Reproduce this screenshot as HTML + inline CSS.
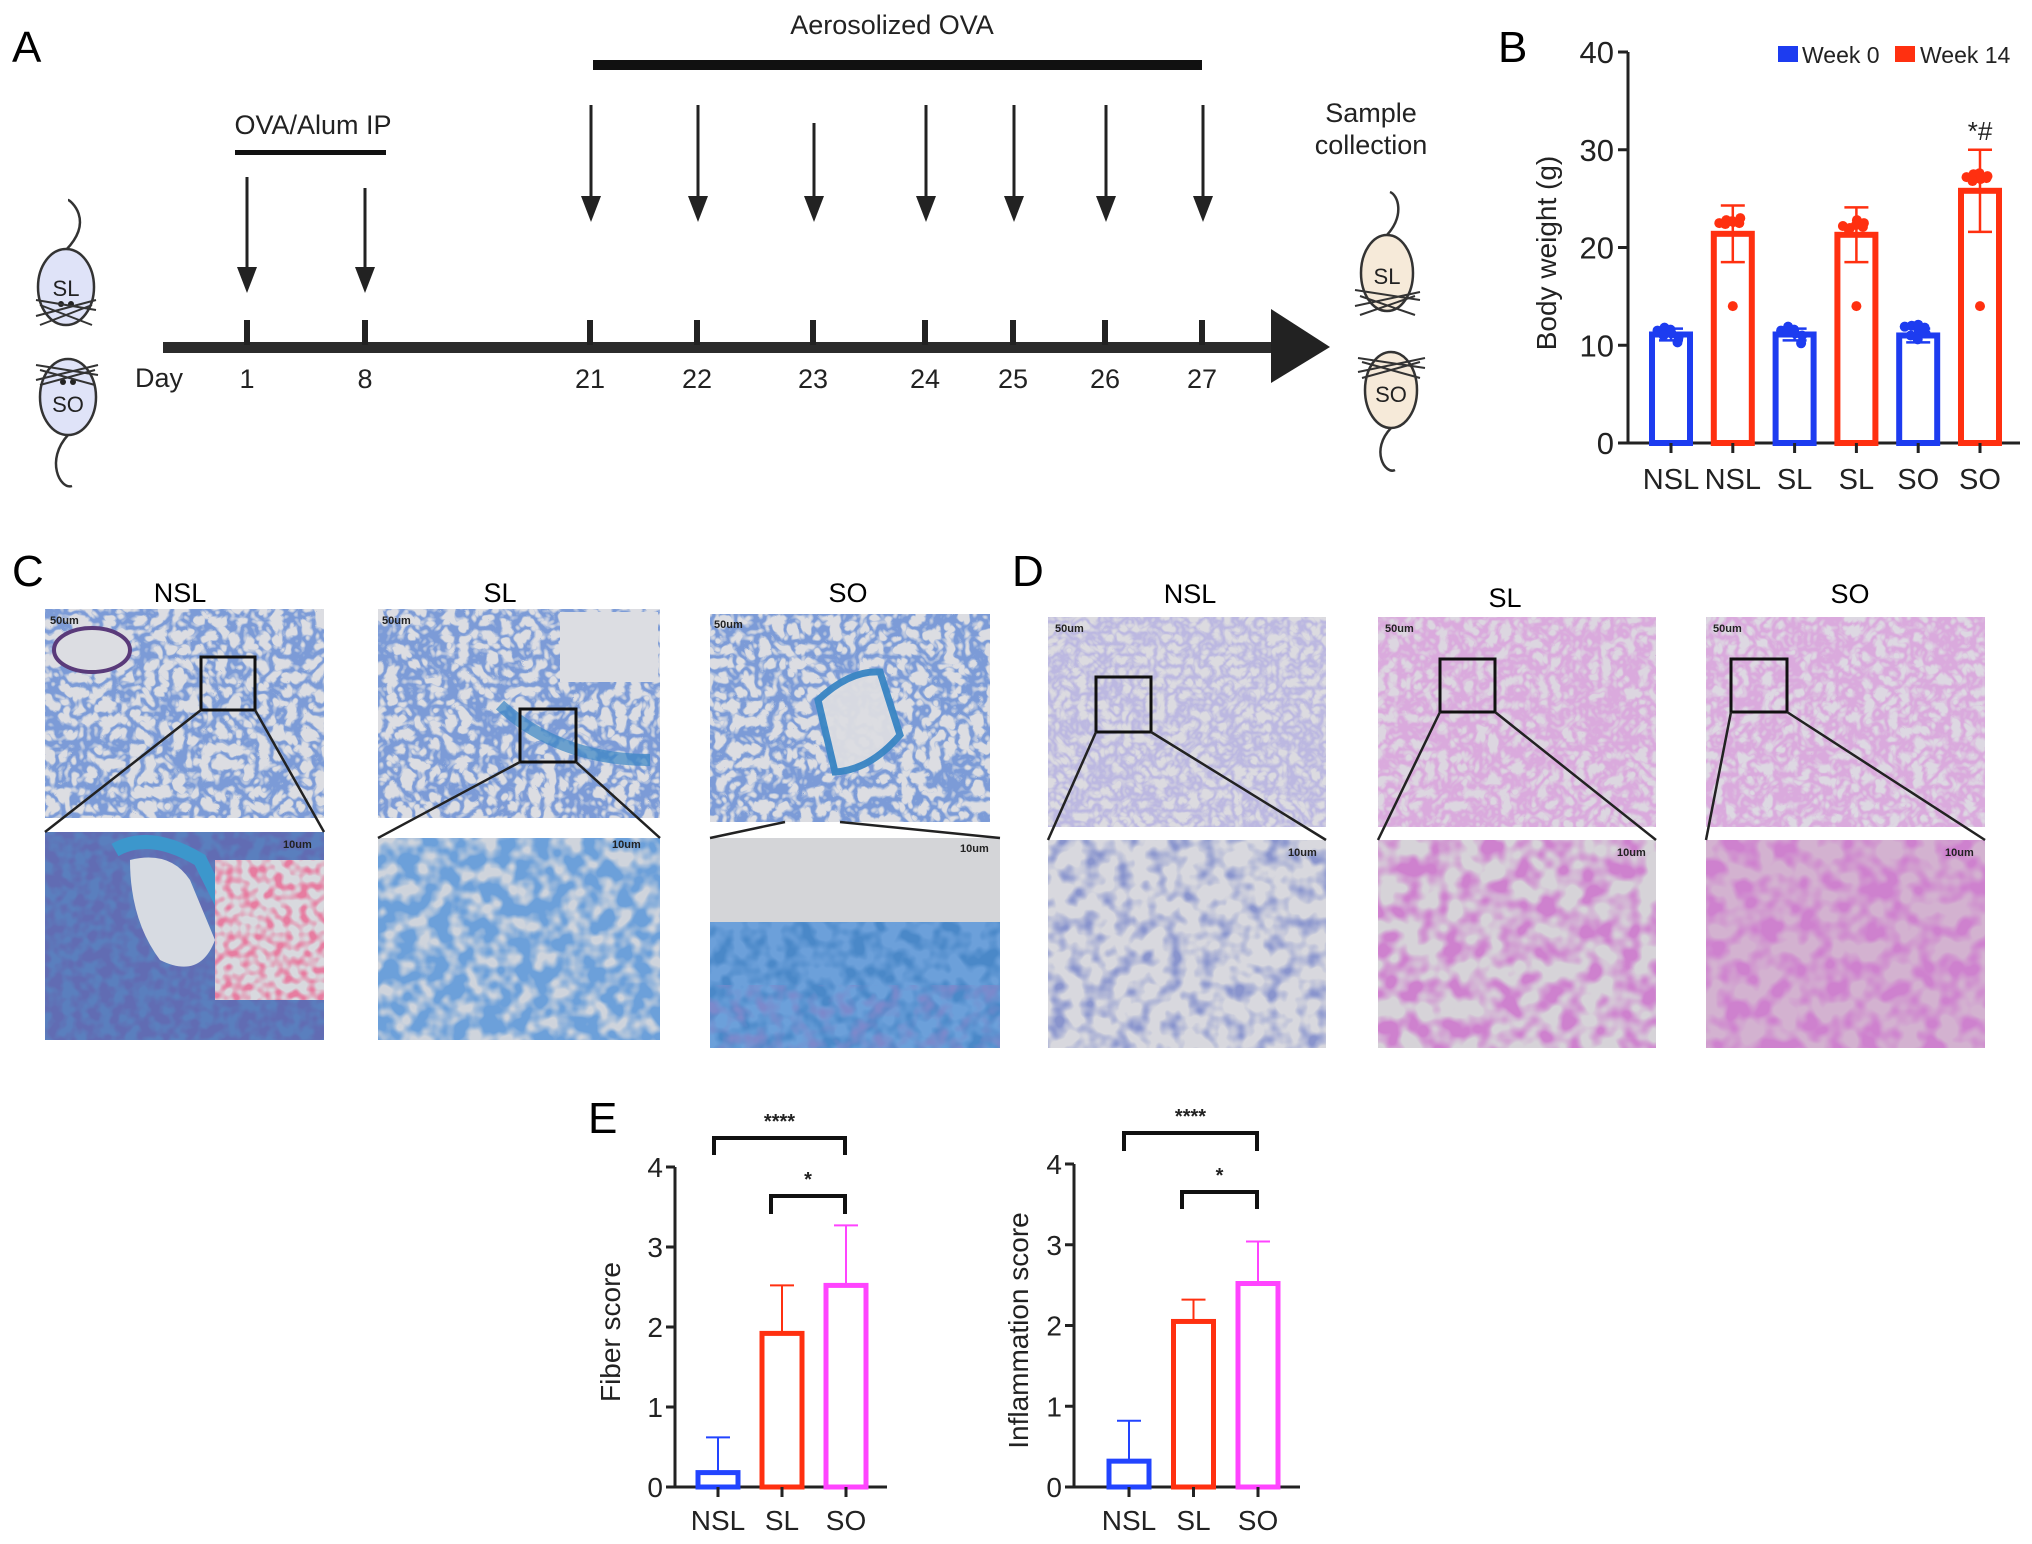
<!DOCTYPE html>
<html><head><meta charset="utf-8">
<style>
html,body{margin:0;padding:0;background:#fff;}
svg{display:block;font-family:"Liberation Sans",Arial,sans-serif;}
</style></head>
<body>
<svg id="fig" width="2032" height="1544" viewBox="0 0 2032 1544" xmlns="http://www.w3.org/2000/svg">
<defs>
  <filter id="texBlue" x="0" y="0" width="100%" height="100%">
    <feTurbulence type="turbulence" baseFrequency="0.07" numOctaves="2" seed="3"/>
    <feColorMatrix type="matrix" values="0 0 0 0 0.2  0 0 0 0 0.33  0 0 0 0 0.68  -5 0 0 0 1.7"/>
  </filter>
  <filter id="texBlueDark" x="0" y="0" width="100%" height="100%">
    <feTurbulence type="fractalNoise" baseFrequency="0.06" numOctaves="2" seed="7"/>
    <feColorMatrix type="matrix" values="0 0 0 0 0.15  0 0 0 0 0.35  0 0 0 0 0.7  3.5 0 0 0 -1.1"/>
  </filter>
  <filter id="texNavy" x="0" y="0" width="100%" height="100%">
    <feTurbulence type="fractalNoise" baseFrequency="0.08" numOctaves="2" seed="17"/>
    <feColorMatrix type="matrix" values="0 0 0 0 0.12  0 0 0 0 0.15  0 0 0 0 0.45  3.5 0 0 0 -1.2"/>
  </filter>
  <filter id="texRed" x="0" y="0" width="100%" height="100%">
    <feTurbulence type="fractalNoise" baseFrequency="0.12" numOctaves="1" seed="21"/>
    <feColorMatrix type="matrix" values="0 0 0 0 0.8  0 0 0 0 0.2  0 0 0 0 0.35  4 0 0 0 -1.7"/>
  </filter>
  <filter id="texPurple" x="0" y="0" width="100%" height="100%">
    <feTurbulence type="turbulence" baseFrequency="0.09" numOctaves="2" seed="5"/>
    <feColorMatrix type="matrix" values="0 0 0 0 0.5  0 0 0 0 0.48  0 0 0 0 0.75  -3 0 0 0 1.3"/>
  </filter>
  <filter id="texPink" x="0" y="0" width="100%" height="100%">
    <feTurbulence type="turbulence" baseFrequency="0.08" numOctaves="2" seed="9"/>
    <feColorMatrix type="matrix" values="0 0 0 0 0.7  0 0 0 0 0.4  0 0 0 0 0.72  -3.2 0 0 0 1.4"/>
  </filter>
  <filter id="texPinkBig" x="0" y="0" width="100%" height="100%">
    <feTurbulence type="fractalNoise" baseFrequency="0.05" numOctaves="2" seed="11"/>
    <feColorMatrix type="matrix" values="0 0 0 0 0.62  0 0 0 0 0.22  0 0 0 0 0.62  3.5 0 0 0 -1.35"/>
  </filter>
  <filter id="texBluePurple" x="0" y="0" width="100%" height="100%">
    <feTurbulence type="fractalNoise" baseFrequency="0.06" numOctaves="2" seed="13"/>
    <feColorMatrix type="matrix" values="0 0 0 0 0.2  0 0 0 0 0.25  0 0 0 0 0.6  3.0 0 0 0 -1.3"/>
  </filter>
</defs>

<g>
  <text x="12" y="62" font-size="44">A</text>
  <text x="892" y="34" font-size="27" text-anchor="middle" fill="#222">Aerosolized OVA</text>
  <rect x="593" y="60" width="609" height="10" fill="#111"/>
  <text x="313" y="134" font-size="27" text-anchor="middle" fill="#222">OVA/Alum IP</text>
  <rect x="235" y="150" width="151" height="5" fill="#111"/>
  <text x="1371" y="122" font-size="27" text-anchor="middle" fill="#222">Sample</text>
  <text x="1371" y="154" font-size="27" text-anchor="middle" fill="#222">collection</text>
  <g id="arrows" stroke="#222" stroke-width="3" fill="#222"></g>
  <rect x="163" y="342" width="1110" height="11" fill="#2b2b2b"/>
  <polygon points="1271,309 1330,347 1271,383" fill="#222"/>
  <g id="ticks"></g>
  <text x="135" y="387" font-size="27" fill="#222">Day</text>
  <g>
    <path d="M66,250 C95,220 70,200 68,200" fill="none" stroke="#333" stroke-width="2.5"/>
    <ellipse cx="66" cy="287" rx="28" ry="38" fill="#dfe3f8" stroke="#333" stroke-width="2.5"/>
    <text x="66" y="296" font-size="22" text-anchor="middle" fill="#222">SL</text>
    <circle cx="61" cy="304" r="3" fill="#222"/><circle cx="71" cy="304" r="3" fill="#222"/>
    <path d="M36,300 L96,310 M36,316 L96,300 M40,325 L92,305 M92,325 L40,305" stroke="#333" stroke-width="2"/>
  </g>
  <g>
    <ellipse cx="68" cy="397" rx="28" ry="38" fill="#dfe3f8" stroke="#333" stroke-width="2.5"/>
    <text x="68" y="412" font-size="22" text-anchor="middle" fill="#222">SO</text>
    <circle cx="63" cy="382" r="3" fill="#222"/><circle cx="73" cy="382" r="3" fill="#222"/>
    <path d="M36,365 L98,375 M36,380 L98,365 M40,385 L95,370 M95,385 L40,370" stroke="#333" stroke-width="2"/>
    <path d="M68,435 C45,460 60,490 72,486" fill="none" stroke="#333" stroke-width="2.5"/>
  </g>
  <g>
    <path d="M1387,235 C1405,215 1398,195 1390,192" fill="none" stroke="#333" stroke-width="2.5"/>
    <ellipse cx="1387" cy="273" rx="26" ry="38" fill="#f6ead9" stroke="#333" stroke-width="2.5"/>
    <text x="1387" y="284" font-size="22" text-anchor="middle" fill="#222">SL</text>
    <path d="M1355,290 L1420,300 M1355,306 L1420,292 M1360,315 L1415,296 M1415,315 L1360,296" stroke="#333" stroke-width="2"/>
  </g>
  <g>
    <ellipse cx="1391" cy="390" rx="26" ry="38" fill="#f6ead9" stroke="#333" stroke-width="2.5"/>
    <text x="1391" y="402" font-size="22" text-anchor="middle" fill="#222">SO</text>
    <path d="M1358,358 L1425,368 M1358,372 L1425,358 M1362,378 L1420,362 M1420,378 L1362,362" stroke="#333" stroke-width="2"/>
    <path d="M1391,428 C1370,450 1385,475 1395,470" fill="none" stroke="#333" stroke-width="2.5"/>
  </g>
</g>

<g>
  <text x="12" y="586" font-size="44">C</text>
  <text x="180" y="602" font-size="27" text-anchor="middle">NSL</text>
  <text x="500" y="602" font-size="27" text-anchor="middle">SL</text>
  <text x="848" y="602" font-size="27" text-anchor="middle">SO</text>

  <rect x="45" y="609" width="279" height="209" fill="#dcdde2"/>
  <rect x="45" y="609" width="279" height="209" filter="url(#texBlue)"/>
  <ellipse cx="92" cy="650" rx="38" ry="22" fill="#dcdde2" stroke="#5a3a7a" stroke-width="4"/>
  <rect x="378" y="609" width="282" height="209" fill="#dcdde2"/>
  <rect x="378" y="609" width="282" height="209" filter="url(#texBlue)"/>
  <rect x="560" y="612" width="98" height="70" fill="#dcdde2"/>
  <path d="M500,705 Q560,760 650,760" fill="none" stroke="#3a86c4" stroke-width="12" opacity="0.7"/>
  <rect x="710" y="614" width="280" height="208" fill="#dcdde2"/>
  <rect x="710" y="614" width="280" height="208" filter="url(#texBlue)"/>
  <path d="M818,700 Q850,670 880,672 L900,735 Q870,770 835,772 Z" fill="#dcdde2" stroke="#3a86c4" stroke-width="7" opacity="0.95"/>

  <rect x="45" y="832" width="279" height="208" fill="#5a7fbe"/>
  <rect x="45" y="832" width="279" height="208" filter="url(#texNavy)"/>
  <path d="M130,860 Q170,850 190,880 L215,940 Q200,980 160,960 Q130,920 130,860 Z" fill="#d7dbe2"/>
  <path d="M115,850 Q150,830 200,860 L240,940" fill="none" stroke="#3c97cc" stroke-width="14"/>
  <rect x="215" y="860" width="109" height="140" fill="#d8d9de"/>
  <rect x="215" y="860" width="109" height="140" filter="url(#texRed)"/>
  <text x="283" y="848" font-size="11" font-weight="bold" fill="#222">10um</text>
  <rect x="378" y="838" width="282" height="202" fill="#cfd4dc"/>
  <rect x="378" y="838" width="282" height="202" filter="url(#texBlueDark)"/>
  <rect x="710" y="838" width="290" height="210" fill="#d4d5d8"/>
  <rect x="710" y="922" width="290" height="126" fill="#4a88c8"/>
  <rect x="710" y="922" width="290" height="126" filter="url(#texBlueDark)"/>
  <rect x="710" y="985" width="290" height="63" filter="url(#texBluePurple)"/>

  <rect x="201" y="657" width="54" height="53" fill="none" stroke="#111" stroke-width="3"/>
  <rect x="520" y="709" width="56" height="53" fill="none" stroke="#111" stroke-width="3"/>
  <g stroke="#222" stroke-width="2.5">
    <line x1="201" y1="710" x2="45" y2="832"/><line x1="255" y1="710" x2="324" y2="832"/>
    <line x1="520" y1="762" x2="378" y2="838"/><line x1="576" y1="762" x2="660" y2="838"/>
    <line x1="785" y1="822" x2="710" y2="838"/><line x1="840" y1="822" x2="1000" y2="838"/>
  </g>
  <g font-size="11" font-weight="bold" fill="#222">
    <text x="50" y="624">50um</text><text x="382" y="624">50um</text><text x="714" y="628">50um</text>
    <text x="612" y="848">10um</text><text x="960" y="852">10um</text>
  </g>
</g>

<g>
  <text x="1012" y="586" font-size="44">D</text>
  <text x="1190" y="603" font-size="27" text-anchor="middle">NSL</text>
  <text x="1505" y="607" font-size="27" text-anchor="middle">SL</text>
  <text x="1850" y="603" font-size="27" text-anchor="middle">SO</text>

  <rect x="1048" y="617" width="278" height="210" fill="#dcdbe0"/>
  <rect x="1048" y="617" width="278" height="210" filter="url(#texPurple)"/>
  <rect x="1378" y="617" width="278" height="210" fill="#dcd6e0"/>
  <rect x="1378" y="617" width="278" height="210" filter="url(#texPink)"/>
  <rect x="1706" y="617" width="279" height="210" fill="#ddd8e2"/>
  <rect x="1706" y="617" width="279" height="210" filter="url(#texPink)"/>

  <rect x="1048" y="840" width="278" height="208" fill="#d8d8de"/>
  <rect x="1048" y="840" width="278" height="208" filter="url(#texBluePurple)" opacity="0.85"/>
  <rect x="1378" y="840" width="278" height="208" fill="#d6d3d8"/>
  <rect x="1378" y="840" width="278" height="208" filter="url(#texPinkBig)"/>
  <rect x="1706" y="840" width="279" height="208" fill="#d3b2d0"/>
  <rect x="1706" y="840" width="279" height="208" filter="url(#texPinkBig)"/>

  <rect x="1096" y="677" width="55" height="55" fill="none" stroke="#111" stroke-width="3"/>
  <rect x="1440" y="659" width="55" height="53" fill="none" stroke="#111" stroke-width="3"/>
  <rect x="1731" y="659" width="56" height="53" fill="none" stroke="#111" stroke-width="3"/>
  <g stroke="#222" stroke-width="2.5">
    <line x1="1096" y1="732" x2="1048" y2="840"/><line x1="1151" y1="732" x2="1326" y2="840"/>
    <line x1="1440" y1="712" x2="1378" y2="840"/><line x1="1495" y1="712" x2="1656" y2="840"/>
    <line x1="1731" y1="712" x2="1706" y2="840"/><line x1="1787" y1="712" x2="1985" y2="840"/>
  </g>
  <g font-size="11" font-weight="bold" fill="#222">
    <text x="1055" y="632">50um</text><text x="1385" y="632">50um</text><text x="1713" y="632">50um</text>
    <text x="1288" y="856">10um</text><text x="1617" y="856">10um</text><text x="1945" y="856">10um</text>
  </g>
</g>

<g id="chartB"></g>
<g id="chartE1"></g>
<g id="chartE2"></g>
<text x="1498" y="62" font-size="44">B</text>
<text x="588" y="1133" font-size="44">E</text>
</svg>

<script>
const timelineDays = ["1","8","21","22","23","24","25","26","27"];
const ipDays = ["1","8"];
const aerosolDays = ["21","22","23","24","25","26","27"];

const bCategories = ["NSL","NSL","SL","SL","SO","SO"];
const bWeeks = [0,14,0,14,0,14];
const bMeans = [11.1, 21.4, 11.1, 21.3, 11.0, 25.8];
const bSD = [0.6, 2.9, 0.6, 2.8, 0.7, 4.2];
const bPoints = [
  [11.5,11.8,11.2,10.8,11.0,11.6,10.3,11.3],
  [22.5,22.8,22.6,23.0,22.4,22.7,22.5,14.0],
  [11.5,11.9,11.2,11.0,11.4,11.6,10.2,11.3],
  [22.2,22.0,22.8,22.5,21.8,22.3,22.1,14.0],
  [11.9,12.0,11.5,11.2,11.0,10.6,11.8,12.1],
  [27.2,27.5,27.0,27.3,26.8,27.6,27.1,14.0]
];
const bTicks = [0,10,20,30,40];
const bLegend = ["Week 0","Week 14"];

const eCategories = ["NSL","SL","SO"];
const fiberMeans = [0.18, 1.92, 2.52];
const fiberSD = [0.44, 0.60, 0.75];
const inflMeans = [0.32, 2.05, 2.52];
const inflSD = [0.50, 0.27, 0.52];
const eTicks = [0,1,2,3,4];

const NS = "http://www.w3.org/2000/svg";
function mk(tag, attrs, parent){ const e=document.createElementNS(NS,tag); for(const k in attrs) e.setAttribute(k,attrs[k]); if(parent) parent.appendChild(e); return e; }

const dayX = {"1":247,"8":365,"21":590,"22":697,"23":813,"24":925,"25":1013,"26":1105,"27":1202};
const tickG = document.getElementById('ticks');
timelineDays.forEach(d=>{
  const t = mk('rect',{x:dayX[d]-3,y:320,width:6,height:25,fill:'#222'},tickG);
  
  
  const l = mk('text',{x:dayX[d],y:388,'font-size':27,'text-anchor':'middle',fill:'#222'},tickG);
  l.textContent=d;
  
  
});
const arrG = document.getElementById('arrows');
function arrow(x,y1,y2,name){
  const g = mk('g',{},arrG);
  
  
  mk('line',{x1:x,y1:y1,x2:x,y2:y2-20},g);
  mk('polygon',{points:`${x-10},${y2-26} ${x+10},${y2-26} ${x},${y2}`,stroke:'none'},g);
}
ipDays.forEach((d,i)=>arrow(dayX[d], i==0?177:188, 293, 'ip-arrow-day-'+d));
aerosolDays.forEach(d=>arrow(dayX[d]+1, d=="23"?123:105, 222, 'aerosol-arrow-day-'+d));

(function(){
  const g=document.getElementById('chartB');
  const x0=1628, xEnd=2020, y0=443, yTop=52, vmax=40;
  const y=v=>y0-(v/vmax)*(y0-yTop);
  const step=61.8, first=1671, bw=38;
  const cx=i=>first+i*step;
  const colors={0:'#1d3cf0',14:'#ff3010'};
  bTicks.forEach(t=>{
    const tk=mk('line',{x1:x0-10,y1:y(t),x2:x0,y2:y(t),stroke:'#222','stroke-width':3},g);
    
    
    const lb=mk('text',{x:x0-14,y:y(t)+11,'font-size':31,'text-anchor':'end',fill:'#222'},g);
    lb.textContent=t;
    
    
  });
  const ax=mk('path',{d:`M${x0},${yTop} V${y0} H${xEnd}`,fill:'none',stroke:'#222','stroke-width':3},g);
  
  
  bCategories.forEach((c,i)=>{
    const col=colors[bWeeks[i]];
    const bar=mk('rect',{x:cx(i)-bw/2,y:y(bMeans[i]),width:bw,height:y0-y(bMeans[i]),fill:'#fff',stroke:col,'stroke-width':6},g);
    
    
    const hi=y(bMeans[i]+bSD[i]), lo=y(bMeans[i]-bSD[i]);
    const eb=mk('path',{d:`M${cx(i)},${hi} V${lo} M${cx(i)-12},${hi} H${cx(i)+12} M${cx(i)-12},${lo} H${cx(i)+12}`,stroke:col,'stroke-width':2.5,fill:'none'},g);
    
    
    bPoints[i].forEach((p,j)=>{
      const dx=(j%4-1.5)*7 + (j>=4?3:-3);
      const pt=mk('circle',{cx:(j==7?cx(i):cx(i)+dx),cy:y(p),r:5,fill:col},g);
      
      
    });
    const tk=mk('line',{x1:cx(i),y1:y0,x2:cx(i),y2:y0+10,stroke:'#222','stroke-width':3},g);
    
    
    const lb=mk('text',{x:cx(i),y:489,'font-size':29,'text-anchor':'middle',fill:'#222'},g);
    lb.textContent=c;
    
    
  });
  const sig=mk('text',{x:cx(5),y:140,'font-size':26,'text-anchor':'middle',fill:'#222'},g);
  sig.textContent='*#';
  
  
  const yt=mk('text',{x:1556,y:253,'font-size':28,'text-anchor':'middle',fill:'#222',transform:'rotate(-90 1556 253)'},g);
  yt.textContent='Body weight (g)';
  
  
  const lx=[1778,1895], tx=[1802,1920], lc=['#1d3cf0','#ff3010'];
  bLegend.forEach((l,i)=>{
    const s=mk('rect',{x:lx[i],y:46,width:20,height:16,fill:lc[i]},g);
    
    
    const t=mk('text',{x:tx[i],y:63,'font-size':23,fill:'#222'},g);
    t.textContent=l;
    
    
  });
})();

function drawE(id, prefix, means, sds, cfg){
  const g=document.getElementById(id);
  const {x0,xEnd,y0,yTop,title,titleX,br1,br2}=cfg;
  const y=v=>y0-(v/4)*(y0-yTop);
  const cx=i=>cfg.first+i*cfg.step;
  const bw=40;
  const cols=['#2244ff','#ff3010','#ff44ff'];
  eTicks.forEach(t=>{
    const tk=mk('line',{x1:x0-9,y1:y(t),x2:x0,y2:y(t),stroke:'#222','stroke-width':3},g);
    
    
    const lb=mk('text',{x:x0-12,y:y(t)+10,'font-size':28,'text-anchor':'end',fill:'#222'},g);
    lb.textContent=t;
    
    
  });
  const ax=mk('path',{d:`M${x0},${yTop} V${y0} H${xEnd}`,fill:'none',stroke:'#222','stroke-width':3},g);
  
  
  eCategories.forEach((c,i)=>{
    const hi=y(means[i]+sds[i]);
    const eb=mk('path',{d:`M${cx(i)},${y(means[i])} V${hi} M${cx(i)-12},${hi} H${cx(i)+12}`,stroke:cols[i],'stroke-width':2,fill:'none'},g);
    
    
    const bar=mk('rect',{x:cx(i)-bw/2,y:y(means[i]),width:bw,height:y0-y(means[i]),fill:'#fff',stroke:cols[i],'stroke-width':5},g);
    
    
    const tk=mk('line',{x1:cx(i),y1:y0,x2:cx(i),y2:y0+10,stroke:'#222','stroke-width':3},g);
    
    
    const lb=mk('text',{x:cx(i),y:1530,'font-size':28,'text-anchor':'middle',fill:'#222'},g);
    lb.textContent=c;
    
    
  });
  [br1,br2].forEach((b,k)=>{
    const p=mk('path',{d:`M${b.xa},${b.yl} V${b.y} H${b.xb} V${b.yl}`,fill:'none',stroke:'#111','stroke-width':4},g);
    
    
    const t=mk('text',{x:(b.xa+b.xb)/2,y:b.y-10,'font-size':20,'font-weight':'bold','text-anchor':'middle',fill:'#222'},g);
    t.textContent=b.label;
    
    
  });
  const cy=(y0+yTop)/2+5;
  const yt=mk('text',{x:titleX,y:cy,'font-size':28,'text-anchor':'middle',fill:'#222',transform:`rotate(-90 ${titleX} ${cy})`},g);
  yt.textContent=title;
  
  
}
drawE('chartE1','fiber',fiberMeans,fiberSD,{x0:675,xEnd:887,y0:1487,yTop:1167,first:718,step:64,title:'Fiber score',titleX:620,
  br1:{xa:714,xb:845,y:1138,yl:1155,label:'****'},br2:{xa:771,xb:845,y:1196,yl:1214,label:'*'}});
drawE('chartE2','inflammation',inflMeans,inflSD,{x0:1074,xEnd:1300,y0:1487,yTop:1164,first:1129,step:64.5,title:'Inflammation score',titleX:1028,
  br1:{xa:1124,xb:1257,y:1133,yl:1151,label:'****'},br2:{xa:1182,xb:1257,y:1192,yl:1209,label:'*'}});
</script>
</body></html>
